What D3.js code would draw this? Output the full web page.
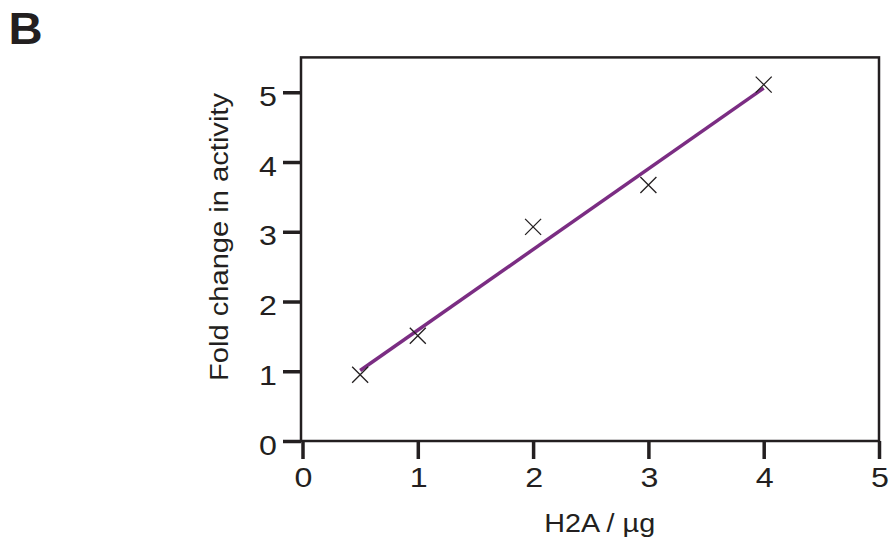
<!DOCTYPE html>
<html>
<head>
<meta charset="utf-8">
<script src="https://cdn.jsdelivr.net/npm/d3@7"></script>
<style>
  body { margin: 0; background: #fff; }
  svg { display: block; }
  text { font-family: "Liberation Sans", Arial, Helvetica, sans-serif; fill: #231f20; }
</style>
</head>
<body>
<div id="chart"></div>
<script>
// measured points
var doseUg = [0.5, 1, 2, 3, 4];
var foldChange = [0.95, 1.51, 3.07, 3.67, 5.11];
// fitted line end points
var fitDose = [0.5, 4];
var fitFold = [1.01, 5.06];
var xTicks = [0, 1, 2, 3, 4, 5];
var yTicks = [0, 1, 2, 3, 4, 5];
var xTitle = "H2A / \u00b5g";
var yTitle = "Fold change in activity";
var panelLabel = "B";

(function(){
    var width = 890, height = 543;
    var ink = "#231f20";
    var stretch = 1.15;

    var svg = d3.select("#chart").append("svg")
        .attr("width", width)
        .attr("height", height);

    var x = d3.scaleLinear().domain([0, 5]).range([302.5, 879]);
    var y = d3.scaleLinear().domain([0, 5.5]).range([441, 57.4]);

    // frame
    svg.append("rect")
        .attr("x", x(0) - 1.5).attr("y", y(5.5))
        .attr("width", x(5) - x(0) + 1.5).attr("height", y(0) - y(5.5))
        .attr("fill", "none").attr("stroke", ink).attr("stroke-width", 2.5);

    // tick marks
    var xAxis = svg.append("g")
        .attr("transform", "translate(0," + y(0) + ")")
        .call(d3.axisBottom(x).tickValues(xTicks).tickSize(18).tickFormat(""));
    var yAxis = svg.append("g")
        .attr("transform", "translate(" + (x(0) - 1.5) + ",0)")
        .call(d3.axisLeft(y).tickValues(yTicks).tickSize(18).tickFormat(""));
    [xAxis, yAxis].forEach(function(g){
        g.select(".domain").remove();
        g.selectAll(".tick line").attr("stroke", ink).attr("stroke-width", 3.5);
    });

    // tick labels
    svg.selectAll("text.xlab").data(xTicks).enter().append("text")
        .attr("class", "xlab")
        .attr("text-anchor", "middle")
        .attr("font-size", 28)
        .attr("transform", function(d){ return "translate(" + (x(d) + 1) + ",486.5) scale(" + stretch + ",1)"; })
        .text(function(d){ return d; });
    svg.selectAll("text.ylab").data(yTicks).enter().append("text")
        .attr("class", "ylab")
        .attr("text-anchor", "end")
        .attr("font-size", 28)
        .attr("transform", function(d){ return "translate(277," + (y(d) + 13.5) + ") scale(" + stretch + ",1)"; })
        .text(function(d){ return d; });

    // axis titles
    svg.append("text")
        .attr("text-anchor", "middle")
        .attr("font-size", 25)
        .attr("transform", "translate(599.7,531.7) scale(" + stretch + ",1)")
        .text(xTitle);
    svg.append("text")
        .attr("text-anchor", "middle")
        .attr("font-size", 26)
        .attr("transform", "translate(227.5,237) rotate(-90) scale(1.12,1)")
        .text(yTitle);

    svg.append("text")
        .attr("font-size", 45)
        .attr("font-weight", "bold")
        .attr("transform", "translate(8.5,44.3) scale(1.05,1)")
        .text(panelLabel);

    // fit line
    var line = d3.line()
        .x(function(d){ return x(d[0]); })
        .y(function(d){ return y(d[1]); });
    svg.append("path")
        .datum(d3.zip(fitDose, fitFold))
        .attr("d", line)
        .attr("fill", "none")
        .attr("stroke", "#7b2d83")
        .attr("stroke-width", 3.5);

    // cross markers
    var s = 8;
    var pts = svg.selectAll("g.pt").data(d3.zip(doseUg, foldChange)).enter().append("g")
        .attr("class", "pt")
        .attr("transform", function(d){ return "translate(" + x(d[0]) + "," + y(d[1]) + ")"; });
    pts.append("path")
        .attr("d", "M" + (-s) + "," + (-s) + "L" + s + "," + s + "M" + (-s) + "," + s + "L" + s + "," + (-s))
        .attr("stroke", ink)
        .attr("stroke-width", 1.3)
        .attr("fill", "none");
})();
</script>
</body>
</html>
